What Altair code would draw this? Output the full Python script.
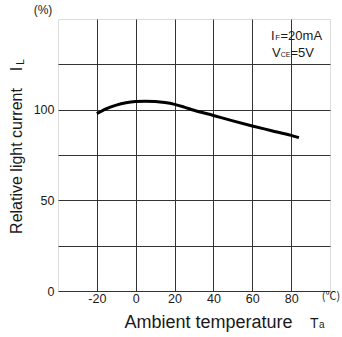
import altair as alt
import pandas as pd

# Curve data
temp = [-20, -15, -10, -5, 0, 5, 10, 15, 20, 25, 30, 40, 50, 60, 70, 80, 84]
rel_current = [97.8, 100.6, 102.5, 103.8, 104.5, 104.7, 104.5, 103.9, 102.9, 101.4, 99.7, 96.8, 93.8, 91.0, 88.4, 85.8, 84.6]

x_grid = [-20, 0, 20, 40, 60, 80]
y_grid = [0, 25, 50, 75, 100, 125]

FONT = "Liberation Sans"
TXT = "#1a1a1a"

df = pd.DataFrame({"t": temp, "i": rel_current})

W, H = 272, 272

x_scale = alt.Scale(domain=[-40, 100], nice=False, zero=False)
y_scale = alt.Scale(domain=[0, 150], nice=False)

curve = alt.Chart(df).mark_line(color="#000000", strokeWidth=3, interpolate="monotone").encode(
    x=alt.X("t:Q", scale=x_scale,
            axis=alt.Axis(values=x_grid, title=None, ticks=False, domain=False,
                          grid=True, gridColor="#333333", gridWidth=1, gridOpacity=1,
                          labelExpr="toString(datum.value)", labelFont=FONT,
                          labelFontSize=12.5, labelColor=TXT, labelPadding=1)),
    y=alt.Y("i:Q", scale=y_scale,
            axis=alt.Axis(values=y_grid, title=None, ticks=False, domain=False,
                          grid=True, gridColor="#333333", gridWidth=1, gridOpacity=1,
                          labelExpr="datum.value % 50 == 0 ? toString(datum.value) : ''",
                          labelFont=FONT, labelFontSize=12.5, labelColor=TXT, labelPadding=4)),
)

def txt(s, x, y, size, angle=0, align="left", baseline="alphabetic", font=FONT):
    kw = dict(text=s, font=font, fontSize=size, color=TXT, align=align, baseline=baseline)
    if angle:
        kw["angle"] = angle
    return alt.Chart().mark_text(**kw).encode(x=alt.value(x), y=alt.value(y))

layers = [
    curve,
    txt("(%)", -15, -9, 12, align="center", baseline="middle"),
    txt("(℃)", 273, 278, 11, align="center", baseline="middle", font="Noto Sans CJK JP"),
    txt("Relative light current", -41, 142, 16, angle=270, align="center", baseline="middle"),
    txt("I", -41, 50, 16, angle=270, align="center", baseline="middle"),
    txt("L", -37, 43, 10, angle=270, align="center", baseline="middle"),
    txt("Ambient temperature", 150.5, 304, 18, align="center", baseline="middle"),
    txt("T", 252, 309, 14, align="left"),
    txt("a", 261, 309, 10, align="left"),
    txt("I", 213, 21, 13),
    txt("F", 217.3, 21, 8),
    txt("=20mA", 222.5, 21, 13),
    txt("V", 214, 38, 13),
    txt("CE", 222.7, 38, 7),
    txt("=5V", 232.5, 38, 13),
]

chart = alt.layer(*layers).properties(
    width=W, height=H,
    autosize=alt.AutoSizeParams(type="none"),
    padding={"left": 58, "top": 19, "right": 12, "bottom": 46},
).configure_view(stroke="#222222", strokeWidth=1.3).configure(background="white")

chart.save("out.html", embed_options={"renderer": "svg", "actions": False})
